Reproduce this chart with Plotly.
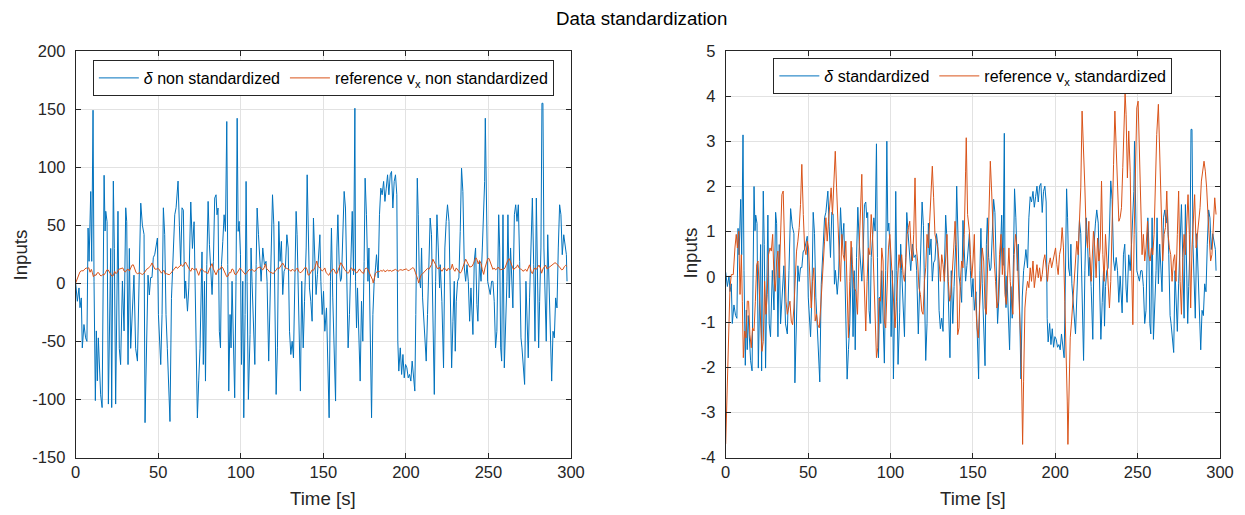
import plotly.graph_objects as go

# ---------------- data ----------------
# steering input delta, non standardized  (time [s], value)
t_delta_a = [0.0, 1.0, 2.0, 2.6, 3.4, 4.0, 5.0, 6.0, 6.8, 7.5,
             8.1, 9.1, 9.7, 10.5, 11.1, 11.9, 12.5, 13.1, 13.7, 14.5,
             15.1, 16.0, 16.5, 17.2, 17.8, 18.2, 19.0, 19.8, 21.2, 21.8,
             22.8, 23.4, 24.2, 24.8, 25.6, 26.4, 27.2, 28.3, 29.3, 30.3,
             30.9, 31.7, 32.5, 33.3, 34.3, 35.3, 36.3, 37.4, 38.4, 39.4,
             40.4, 41.4, 42.0, 43.0, 43.8, 44.6, 45.4, 46.2, 47.0, 47.9,
             48.7, 49.5, 50.1, 50.7, 51.5, 52.3, 53.1, 53.9, 54.7, 55.5,
             56.1, 57.1, 58.0, 59.0, 60.0, 60.8, 62.0, 62.8, 63.6, 64.4,
             65.2, 66.0, 66.6, 67.7, 68.5, 69.7, 70.7, 71.7, 72.7, 73.7,
             74.5, 75.3, 76.5]
delta_a = [0, -15.5, -4, -21, -12.6, -55.6, -35.5, -47, -50, 47.6,
           18.9, 79, 18.9, 149, 1.7, -101, -41, -84, -47, -70,
           -96, -107, 1.7, 93, 45, 62, 53, -104, 30, -107,
           88, 30, -104, -27, 62, -56, -70, 2, -41, 65,
           53, -70, 30, -56, -27, 7, -56, -67, 2, 69,
           50, 42, -120, -27, 7, -10, 5, 5, 22, 25,
           33, 39, -27, -47, -70, -27, 65, 42, -27, -56,
           -84, -119, -13, 25, 59, 65, 88, 50, 16, 65,
           63, -13, 2, -24, -4, 70, 30, 53, -27, -116,
           -84, -56, 27]

t_delta_b = [77.3, 78.0, 78.6, 79.4, 80.2, 81.0, 82.0, 82.6, 83.4, 84.2,
             85.0, 85.6, 86.2, 87.0, 87.7, 88.3, 89.1, 89.9, 90.7, 91.5,
             92.1, 92.7, 93.5, 94.1, 94.7, 95.5, 96.3, 97.1, 97.8, 98.4,
             99.0, 99.8, 100.4, 101.2, 101.8, 102.6, 103.2, 103.8, 104.6, 105.6,
             106.2, 106.8, 107.7, 108.5, 109.3, 109.9, 110.7, 111.3, 112.3, 113.3,
             114.3, 115.3, 115.9, 116.9, 117.8, 118.6, 119.2, 120.0, 120.6, 121.4,
             122.2, 123.0, 123.8, 124.6, 125.4, 126.2, 127.0, 127.9, 128.7, 129.5,
             130.3, 131.1, 131.9, 132.7, 133.5, 134.1, 134.7, 135.5, 136.1, 136.9,
             137.8, 138.6, 139.6, 140.2, 140.8, 141.6, 142.4, 143.2, 144.0, 144.8,
             145.6, 146.4, 147.2]
delta_b = [-69.9, 1.7, -84.2, 16.0, 70.5, 33.2, 1.7, -9.7, 18.9, 73.4,
           76.2, 59.0, 64.8, -41.3, -55.6, 16.0, 36.1, 59.0, 44.7, 139.3,
           16.0, -92.8, -26.9, -55.6, 1.7, -41.3, -98.6, 1.7, 142.1, 44.7,
           53.3, 24.6, -69.9, 1.7, -115.8, -26.9, 87.7, 1.7, -100, -44.1,
           30.4, 1.7, -49.9, -69.9, 16.0, 64.8, 41.8, 21.8, 1.7, 30.4,
           16.0, 18.9, 1.7, -67.0, 1.7, 36.1, 76.2, 50.4, 1.7, -95.7,
           -55.6, 53.3, 18.9, 36.1, -9.7, 10.3, 13.2, 41.8, 30.4, -41.3,
           -61.3, -49.9, -64.2, 1.7, 61.9, 41.8, 1.7, -29.8, -92.8, 1.7,
           -55.6, -15.5, 30.4, 93.4, 59.0, -4.0, -15.5, -32.7, 56.2, 13.2,
           -9.7, 7.4, 21.8]

t_delta_c = [147.9, 148.5, 149.3, 150.1, 150.9, 151.9, 152.9, 153.5, 154.3, 154.9,
             155.7, 156.6, 157.4, 158.2, 158.8, 159.6, 160.4, 161.0, 161.8, 162.6,
             163.4, 164.2, 165.0, 165.8, 166.7, 167.5, 168.3, 169.1, 169.5, 170.1,
             170.7, 171.5, 172.3, 173.1, 173.9, 174.7, 175.3, 176.1, 177.0, 177.6,
             178.4, 179.2, 180.0, 180.8, 181.6, 182.2, 183.2, 184.0, 184.8, 185.6,
             186.5, 187.3, 188.1, 188.9, 189.7, 190.5, 191.3, 192.1, 192.9, 193.7,
             194.5, 195.1, 195.7, 196.6, 197.4, 198.2, 199.0, 199.8, 200.6, 201.4,
             202.2, 203.0, 203.8, 204.6, 205.4, 206.0, 206.9, 207.5, 208.1, 208.9,
             209.5, 210.1, 210.9, 211.5, 212.3, 213.1, 213.9, 214.7, 215.5, 216.3,
             217.2, 218.0, 218.8, 219.6, 220.4]
delta_c = [41.8, 1.7, -26.9, -6.9, -41.3, -21.2, -95.7, -115.8, 1.7, 47.6,
           -12.6, -69.9, -101.4, 30.4, 59.0, 16.0, 1.7, 4.6, 36.1, 79.1,
           64.8, 16.0, -55.6, -26.9, 30.4, 61.9, 7.4, 150.7, 1.7, -38.4,
           -4.0, -47.0, -84.2, -15.5, -49.9, 18.9, 90.5, 59.0, 1.7, 30.4,
           -41.3, -115.8, -26.9, 1.7, 13.2, 24.6, 4.6, 59.0, 81.9, 76.2,
           87.7, 70.5, 81.9, 93.4, 76.2, 93.4, 96.3, 64.8, 87.7, 93.4,
           76.2, -49.9, -75.6, -55.6, -78.5, -61.3, -81.4, -69.9, -72.8, -81.4,
           -78.5, -84.2, -67.0, -84.2, -92.8, -26.9, 90.5, 59.0, 4.6, -4.0,
           30.4, -12.6, -35.5, -55.6, -67.0, -26.9, 30.4, 56.2, 41.8, -12.6,
           -95.7, 1.7, 59.0, 30.4, -4.0]

t_delta_d = [220.8, 221.8, 222.8, 223.6, 224.4, 225.2, 226.1, 226.9, 227.7, 228.5,
             229.3, 229.9, 230.5, 231.3, 232.1, 232.9, 233.7, 234.5, 235.4, 236.2,
             237.0, 237.8, 238.6, 239.4, 240.0, 240.6, 241.4, 242.2, 243.0, 243.6,
             244.6, 245.5, 246.3, 247.1, 247.7, 248.1, 248.7, 249.5, 250.3, 251.1,
             251.9, 252.7, 253.5, 254.3, 255.1, 256.2, 256.8, 257.4, 258.0, 258.8,
             259.6, 260.4, 261.2, 261.8, 262.6, 263.4, 264.2, 264.8, 265.7, 266.5,
             267.3, 268.1, 268.9, 269.7, 270.3, 271.1, 271.9, 272.7, 273.3, 274.1,
             274.9, 275.8, 276.6, 277.4, 278.2, 279.0, 279.8, 280.4, 281.0, 281.8,
             282.4, 283.0, 283.6, 284.2, 285.0, 285.9, 286.7, 287.5, 288.3, 289.1,
             289.9, 290.7, 291.5, 292.3, 293.1, 293.9, 294.7, 295.6, 296.4, 297.2,
             297.6]
delta_d = [16.0, -15.5, -72.8, 30.4, 53.3, 67.6, 53.3, -26.9, -72.8, -32.7,
           1.7, -58.5, -15.5, 1.7, 4.6, 44.7, 99.1, 79.1, 13.2, 1.7,
           16.0, 1.7, -32.7, -4.0, -32.7, -44.1, 18.9, 30.4, -18.3, -32.7,
           18.9, 1.7, 30.4, 73.4, 87.7, 142.1, 59.0, 1.7, -4.0, -9.7,
           1.7, 1.7, -15.5, -55.6, -41.3, 59.0, 30.4, -55.6, -67.0, 59.0,
           -72.8, -32.7, 1.7, 59.0, -12.6, 30.4, 1.7, -21.2, 59.0, 67.6,
           53.3, 67.6, 18.9, -47.0, -55.6, -69.9, -87.1, 1.7, -26.9, -64.2,
           -12.6, 30.4, 73.4, 16.0, -49.9, 73.4, -15.5, -55.6, -15.5, 30.4,
           155.0, 155.0, 30.4, 1.7, -49.9, 41.8, -4.0, -55.6, -84.2, -41.3,
           -47.0, -12.6, -21.2, 30.4, 67.6, 59.0, 24.6, 41.8, 30.4, 24.6,
           1.7]

# reference v_x, standardized  (time [s], value)
t_vx_a = [0.0, 1.4, 2.6, 3.4, 4.6, 5.6, 6.4, 7.1, 7.9, 8.7,
          9.5, 10.1, 10.7, 11.5, 12.3, 13.1, 13.9, 14.7, 15.5, 16.3,
          17.2, 18.0, 18.8, 19.6, 20.4, 21.2, 22.0, 22.8, 23.6, 24.4,
          25.2, 26.0, 26.9, 27.7, 28.5, 29.3, 30.1, 30.9, 31.7, 32.5,
          33.3, 34.1, 34.9, 35.7, 36.6, 37.4, 38.2, 39.0, 39.8, 40.6,
          41.4, 42.2, 43.0, 43.8, 44.6, 45.4, 46.2, 47.1, 47.9, 48.7,
          49.5, 50.3, 51.1, 51.9, 52.7, 53.5, 54.3, 55.1, 55.9, 56.8,
          57.6, 58.4, 59.2, 60.0, 60.8, 61.6, 62.4, 63.2, 64.0, 64.8,
          65.6, 66.5, 67.3, 68.1, 68.9, 69.7, 70.5, 71.3, 72.1]
vx_a = [-3.70, -1.57, -0.24, 0.05, 0.05, 0.64, 0.94, 0.64, 1.01, -0.39,
        0.49, -0.54, -1.79, -1.20, -1.35, -0.54, -0.54, -1.28, -1.57, -1.13,
        -1.20, -0.54, 0.27, 0.35, -0.39, -0.98, -1.65, -1.43, -0.10, -0.83,
        -0.39, 0.49, 0.64, 0.57, 0.94, -0.02, -0.32, 0.35, 0.57, -0.02,
        1.23, 1.82, 1.90, 0.35, -0.54, -0.83, -0.69, -0.54, -0.98, -1.06,
        -0.69, 0.05, 0.57, 0.79, 1.09, 1.60, 2.49, 1.38, 0.64, 0.49,
        0.79, 0.64, -0.10, -0.69, -0.10, 0.20, -0.98, -0.83, -1.06, -1.13,
        -0.69, -0.10, 0.20, 0.79, 1.31, 0.79, 1.23, 1.68, 1.97, 1.38,
        2.12, 2.78, 1.97, 1.01, 0.49, -0.10, 0.94, 0.49, 0.35]

t_vx_b = [72.9, 73.9, 74.5, 75.3, 76.1, 76.9, 78.0, 79.0, 80.0, 81.0,
          81.8, 82.6, 83.4, 84.2, 85.0, 85.8, 86.6, 87.5, 88.3, 89.1,
          89.9, 90.7, 91.5, 92.3, 93.1, 93.9, 94.7, 95.5, 96.3, 97.1,
          98.0, 98.8, 99.6, 100.4, 101.2, 102.0, 102.8, 103.6, 104.4, 105.2,
          106.0, 106.8, 107.7, 108.5, 109.3, 110.1, 110.9, 111.7, 112.5, 113.3,
          114.1, 114.9, 115.7, 116.5, 117.3, 118.2, 119.0, 119.8, 120.6, 121.4,
          122.2, 123.0, 123.8, 124.6, 125.4, 126.2, 127.0, 127.9, 128.7, 129.5,
          130.3, 131.1, 131.9, 132.7, 133.5, 134.3, 135.1, 135.9, 136.7, 137.6,
          138.4, 139.2, 140.0, 140.8, 141.6, 142.4, 143.2, 144.0, 144.8, 145.6,
          146.0, 146.8]
vx_b = [0.79, -0.83, -1.35, -0.10, 0.79, 0.27, -0.24, -0.32, -0.83, 0.64,
        1.53, 2.27, 0.64, -0.10, -1.20, -0.10, 0.64, 0.49, 1.38, 0.94,
        -0.10, -0.69, -1.79, -1.57, -0.47, -0.54, 0.64, 0.35, -0.98, -1.13,
        -0.24, 0.64, 0.94, 0.35, -0.10, -0.83, -1.13, -0.54, 0.05, 0.49,
        0.20, 0.49, 0.05, -0.10, 0.35, 0.94, 1.09, 1.23, 0.64, 0.35,
        0.94, 2.19, 0.64, 0.35, -0.24, -0.39, -0.76, -0.83, -0.10, 0.20,
        0.94, 0.64, 1.23, 1.97, 2.45, 1.75, 0.94, 0.79, 0.64, 0.35,
        -0.10, 0.49, 0.27, -0.10, 0.49, 0.94, -0.10, -0.54, -0.39, 0.35,
        0.64, 1.23, 0.64, -1.28, -1.13, -0.10, 0.35, 0.20, 0.94, 2.34,
        3.08, 1.38]

t_vx_c = [147.9, 148.5, 149.3, 150.1, 150.9, 151.7, 152.5, 153.3, 154.1, 154.9,
          155.7, 156.6, 157.4, 158.2, 159.0, 159.8, 160.6, 161.4, 162.2, 163.0,
          163.8, 164.6, 165.4, 166.2, 167.1, 167.9, 168.7, 169.5, 170.3, 171.1,
          171.9, 172.7, 173.5, 174.3, 175.1, 175.9, 176.8, 177.6, 178.4, 179.2,
          179.8, 180.2, 180.8, 181.6, 182.4, 183.2, 184.0, 184.8, 185.6, 186.5,
          187.3, 188.1, 188.9, 189.7, 190.5, 191.3, 192.1, 192.9, 193.7, 194.5,
          195.3, 196.1, 197.0, 197.8, 198.6, 199.4, 200.2, 201.0, 201.8, 202.6,
          203.4, 204.2, 205.0, 205.8, 206.7, 207.3, 207.7, 208.3, 209.1, 209.9,
          210.7, 211.5, 212.3, 213.1, 213.9, 214.7, 215.5, 216.3, 217.2, 218.0,
          218.8, 219.6, 220.4]
vx_c = [1.01, 0.49, -0.02, 0.35, 0.94, -0.54, -1.13, -1.35, -0.54, 0.20,
        0.64, 0.35, -0.69, -0.83, 0.49, 1.38, 2.56, 1.90, 0.94, 0.35,
        -0.10, -0.69, -0.54, 0.49, 0.94, 0.05, 0.64, -0.39, -0.61, 0.05,
        0.64, -0.10, -0.47, -0.83, 0.49, 0.94, 0.64, -0.24, -0.83, -1.57,
        -2.75, -3.71, -2.31, -0.69, -0.32, -0.10, -0.24, 0.20, -0.10, 0.35,
        -0.24, 0.05, 0.27, -0.02, 0.20, -0.10, 0.05, 0.35, 0.49, 0.20,
        -0.10, 0.27, 0.42, 0.20, 0.35, 0.49, 0.64, 0.27, 0.05, 0.49,
        0.64, 1.09, 0.64, -0.54, -1.57, -2.75, -3.71, -2.31, -1.35, -0.98,
        -0.54, 0.05, 0.49, 0.79, 0.49, 1.09, 1.97, 3.67, 2.86, 1.97,
        0.94, 0.64, 1.23]

t_vx_d = [220.8, 221.8, 222.4, 223.2, 224.0, 224.8, 225.7, 226.5, 227.3, 228.1,
          228.9, 229.7, 230.5, 231.3, 232.1, 232.9, 233.7, 234.5, 235.4, 236.2,
          237.0, 237.8, 238.6, 239.4, 240.2, 241.0, 241.8, 242.4, 243.0, 243.8,
          244.6, 245.5, 246.3, 247.1, 247.9, 248.7, 249.5, 250.3, 251.1, 251.9,
          252.7, 253.5, 254.3, 255.1, 256.0, 256.8, 257.6, 258.4, 259.2, 260.0,
          260.8, 261.6, 262.6, 263.6, 264.4, 265.2, 266.1, 266.9, 267.7, 268.5,
          269.3, 270.1, 270.9, 271.7, 272.5, 273.3, 274.1, 274.9, 275.8, 276.6,
          277.4, 278.2, 279.0, 279.8, 280.6, 281.4, 282.2, 283.0, 283.8, 284.6,
          285.5, 286.3, 287.1, 287.9, 288.7, 289.5, 290.3, 291.1, 291.9, 292.7,
          293.5, 294.3, 295.1, 296.0, 296.8, 297.6]
vx_d = [0.64, -0.10, 0.35, 1.01, 0.64, -0.02, 0.86, 0.35, 0.64, 2.12,
        0.49, -0.10, 0.94, 0.35, -0.10, -0.69, -0.10, 1.38, 2.49, 3.67,
        2.86, 2.12, 1.23, 1.31, 1.53, 2.42, 3.45, 4.08, 3.60, 2.19,
        3.23, 2.34, 0.35, -1.06, 0.94, 2.86, 3.74, 3.89, 2.86, 1.38,
        0.49, 0.94, 0.35, 0.64, 1.23, 0.49, 0.35, 0.64, 0.49, 0.94,
        2.42, 3.15, 3.82, 2.42, 0.94, 0.35, 0.94, 1.09, 1.90, 0.94,
        0.64, 0.49, -0.10, 0.35, 0.49, -0.10, 0.94, 1.90, -0.10, -0.83,
        0.35, 0.94, 0.49, 1.23, 1.82, 0.94, -0.69, 0.64, 1.23, 1.82,
        0.64, 0.94, 1.23, 1.53, 2.12, 2.42, 2.56, 2.34, 1.97, 1.38,
        0.94, 0.35, 0.49, 1.38, 1.75, 1.38]

# tick values / labels
x_ticks = [0, 50, 100, 150, 200, 250, 300]
y1_ticks = [-150, -100, -50, 0, 50, 100, 150, 200]
y2_ticks = [-4, -3, -2, -1, 0, 1, 2, 3, 4, 5]

# standardization parameters (mean / std)
DELTA_MEAN, DELTA_STD = -5.0, 49.0
VX_MEAN, VX_STD = 10.6, 2.78

t_delta = t_delta_a + t_delta_b + t_delta_c + t_delta_d
delta_raw = delta_a + delta_b + delta_c + delta_d
t_vx = t_vx_a + t_vx_b + t_vx_c + t_vx_d
vx_std = vx_a + vx_b + vx_c + vx_d

n1 = min(len(t_delta), len(delta_raw))
t_delta, delta_raw = t_delta[:n1], delta_raw[:n1]
n2 = min(len(t_vx), len(vx_std))
t_vx, vx_std = t_vx[:n2], vx_std[:n2]

delta_stdz = [(v - DELTA_MEAN) / DELTA_STD for v in delta_raw]
vx_raw = [VX_MEAN + VX_STD * z for z in vx_std]

BLUE = "#0072BD"
ORANGE = "#D95319"
FONT = "Liberation Sans, Arial, sans-serif"
AX = "#262626"

W, H = 1245, 515
def px(x):
    return x / W
def py(y):
    return (H - y) / H

L_DOM = [px(75.7), px(571)]
R_DOM = [px(725.7), px(1220)]
Y_DOM = [py(457.5), py(51)]

fig = go.Figure()
fig.add_trace(go.Scatter(x=t_delta, y=delta_raw, mode="lines",
                         line=dict(color=BLUE, width=1),
                         name="<i>δ</i> non standardized",
                         xaxis="x", yaxis="y", legend="legend"))
fig.add_trace(go.Scatter(x=t_vx, y=vx_raw, mode="lines",
                         line=dict(color=ORANGE, width=1),
                         name="reference v<sub>x</sub> non standardized",
                         xaxis="x", yaxis="y", legend="legend"))
fig.add_trace(go.Scatter(x=t_delta, y=delta_stdz, mode="lines",
                         line=dict(color=BLUE, width=1),
                         name="<i>δ</i> standardized",
                         xaxis="x2", yaxis="y2", legend="legend2"))
fig.add_trace(go.Scatter(x=t_vx, y=vx_std, mode="lines",
                         line=dict(color=ORANGE, width=1),
                         name="reference v<sub>x</sub> standardized",
                         xaxis="x2", yaxis="y2", legend="legend2"))

axis_common = dict(showline=True, linecolor=AX, linewidth=1, mirror="ticks",
                   ticks="inside", ticklen=5, tickcolor=AX, tickwidth=1,
                   showgrid=True, gridcolor="#e2e2e2", gridwidth=1,
                   zeroline=False, automargin=False,
                   tickfont=dict(family=FONT, size=16.5, color=AX))

legend_common = dict(orientation="h", bgcolor="white", bordercolor=AX,
                     borderwidth=1, font=dict(family=FONT, size=16, color="black"),
                     xanchor="center", yanchor="top", itemwidth=40,
                     tracegroupgap=0)

fig.update_layout(
    width=W, height=H,
    margin=dict(l=0, r=0, t=0, b=0),
    paper_bgcolor="white", plot_bgcolor="white",
    font=dict(family=FONT, color="black"),
    xaxis=dict(domain=L_DOM, anchor="y", range=[0, 300],
               tickvals=x_ticks, ticktext=[str(v) for v in x_ticks], **axis_common),
    yaxis=dict(domain=Y_DOM, anchor="x", range=[-150, 200],
               tickvals=y1_ticks, ticktext=[str(v) for v in y1_ticks],
               ticklabelstandoff=6, **axis_common),
    xaxis2=dict(domain=R_DOM, anchor="y2", range=[0, 300],
                tickvals=x_ticks, ticktext=[str(v) for v in x_ticks], **axis_common),
    yaxis2=dict(domain=Y_DOM, anchor="x2", range=[-4, 5],
                tickvals=y2_ticks, ticktext=[str(v) for v in y2_ticks],
                ticklabelstandoff=6, **axis_common),
    legend=dict(x=(L_DOM[0] + L_DOM[1]) / 2, y=py(60), **legend_common),
    legend2=dict(x=(R_DOM[0] + R_DOM[1]) / 2, y=py(58), **legend_common),
    annotations=[
        dict(text="Data standardization", x=px(641), y=py(18), xref="paper", yref="paper",
             showarrow=False, xanchor="center", yanchor="middle",
             font=dict(family=FONT, size=18.7, color="black")),
        dict(text="Time [s]", x=(L_DOM[0] + L_DOM[1]) / 2, y=py(498), xref="paper", yref="paper",
             showarrow=False, xanchor="center", yanchor="middle",
             font=dict(family=FONT, size=18.7, color=AX)),
        dict(text="Time [s]", x=(R_DOM[0] + R_DOM[1]) / 2, y=py(498), xref="paper", yref="paper",
             showarrow=False, xanchor="center", yanchor="middle",
             font=dict(family=FONT, size=18.7, color=AX)),
        dict(text="Inputs", x=px(19.5), y=py(255), xref="paper", yref="paper",
             showarrow=False, xanchor="center", yanchor="middle", textangle=-90,
             font=dict(family=FONT, size=18.7, color=AX)),
        dict(text="Inputs", x=px(689.5), y=py(253), xref="paper", yref="paper",
             showarrow=False, xanchor="center", yanchor="middle", textangle=-90,
             font=dict(family=FONT, size=18.7, color=AX)),
    ],
)

fig.write_html("out.html")
